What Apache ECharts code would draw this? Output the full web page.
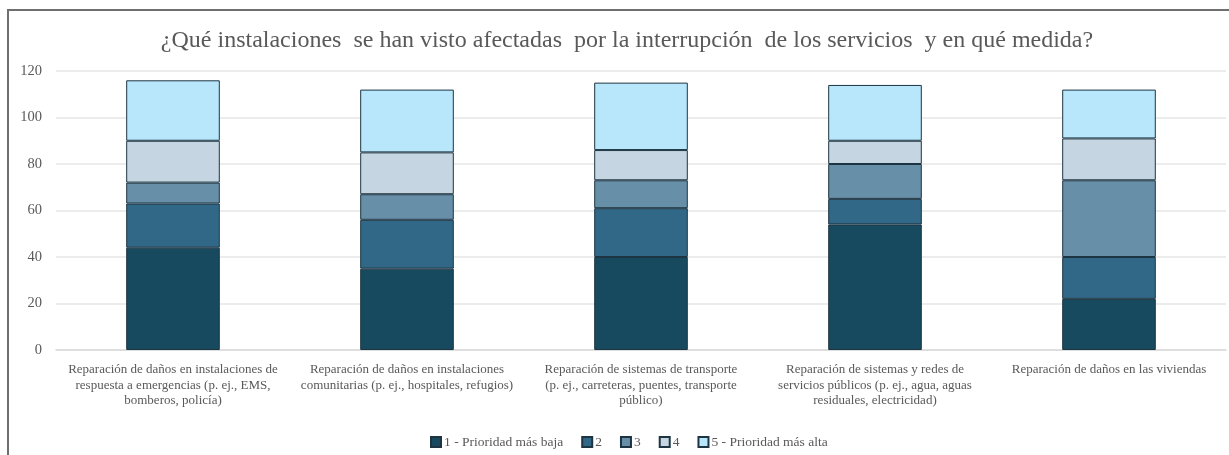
<!DOCTYPE html>
<html>
<head>
<meta charset="utf-8">
<script src="https://cdn.jsdelivr.net/npm/echarts@6/dist/echarts.min.js"></script>
<style>
  html, body { margin: 0; padding: 0; background: #fff; }
  #chart { width: 1229px; height: 455px; }
  .frame {
    position: absolute; left: 7px; top: 9px; width: 1222px; height: 446px;
    border-left: 2px solid #6f6f6f; border-top: 2px solid #6f6f6f;
    pointer-events: none;
  }
</style>
</head>
<body>
<div id="chart"></div>
<div class="frame"></div>
<script>
const categories = [
  'Reparación de daños en instalaciones de\nrespuesta a emergencias (p. ej., EMS,\nbomberos, policía)',
  'Reparación de daños en instalaciones\ncomunitarias (p. ej., hospitales, refugios)',
  'Reparación de sistemas de transporte\n(p. ej., carreteras, puentes, transporte\npúblico)',
  'Reparación de sistemas y redes de\nservicios públicos (p. ej., agua, aguas\nresiduales, electricidad)',
  'Reparación de daños en las viviendas'
];
const seriesNames = ['1 - Prioridad más baja', '2', '3', '4', '5 - Prioridad más alta'];
const p1 = [44, 35, 40, 54, 22];
const p2 = [19, 21, 21, 11, 18];
const p3 = [9, 11, 12, 15, 33];
const p4 = [18, 18, 13, 10, 18];
const p5 = [26, 27, 29, 24, 21];
const colors = ['#174a5f', '#316887', '#678fa8', '#c5d6e2', '#b8e7fc'];

const font = '"Liberation Serif", "DejaVu Serif", serif';
const chart = echarts.init(document.getElementById('chart'));

const values = [p1, p2, p3, p4, p5];

chart.setOption({
  animation: false,
  backgroundColor: '#fff',
  title: {
    text: '¿Qué instalaciones  se han visto afectadas  por la interrupción  de los servicios  y en qué medida?',
    left: 622,
    textAlign: 'center',
    top: 24,
    textStyle: { fontFamily: font, fontSize: 24, fontWeight: 'normal', color: '#595959' }
  },
  legend: {
    left: 425,
    top: 430,
    itemWidth: 10,
    itemHeight: 10,
    itemGap: 18,
    icon: 'rect',
    textStyle: { fontFamily: font, fontSize: 13.5, color: '#595959', padding: [0, 0, 0, -2] },
    data: seriesNames
  },
  grid: { left: 56, right: 3, top: 71, bottom: 105 },
  xAxis: {
    type: 'category',
    data: categories,
    axisLine: { lineStyle: { color: '#d9d9d9', width: 1.5 } },
    axisTick: { show: false },
    axisLabel: {
      interval: 0,
      margin: 12,
      fontFamily: font,
      fontSize: 13,
      lineHeight: 15.5,
      color: '#595959'
    }
  },
  yAxis: {
    type: 'value',
    min: 0,
    max: 120,
    interval: 20,
    axisLine: { show: false },
    axisTick: { show: false },
    splitLine: { lineStyle: { color: '#e6e6e6', width: 1.5 } },
    axisLabel: { fontFamily: font, fontSize: 14.5, color: '#595959', margin: 14 }
  },
  series: seriesNames.map((name, i) => ({
    name: name,
    type: 'bar',
    stack: 'total',
    barWidth: '40%',
    data: values[i],
    itemStyle: { color: colors[i], borderColor: '#1d3542', borderWidth: 1 }
  }))
});
</script>
</body>
</html>
